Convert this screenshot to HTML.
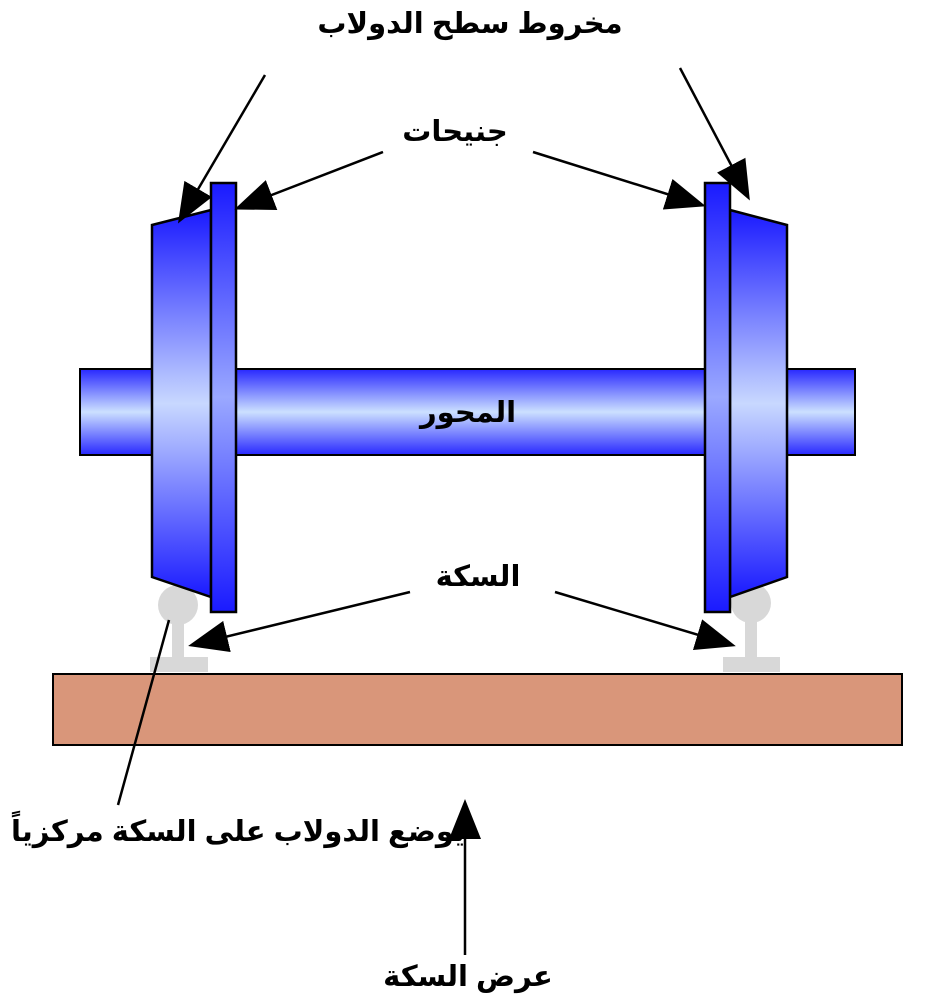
<!DOCTYPE html><html><head><meta charset="utf-8"><style>body{margin:0;background:#fff}svg{display:block}text{font-family:"Liberation Sans","DejaVu Sans",sans-serif;font-size:29px;font-weight:bold;fill:#000}</style></head><body>
<svg width="945" height="1002" viewBox="0 0 945 1002">
<defs>
<linearGradient id="g" x1="0" y1="0" x2="0" y2="1"><stop offset="0" stop-color="#1a1aff"/><stop offset="0.5" stop-color="#c8d8ff"/><stop offset="1" stop-color="#1a1aff"/></linearGradient>
<linearGradient id="f" x1="0" y1="0" x2="0" y2="1"><stop offset="0" stop-color="#1a1aff"/><stop offset="0.5" stop-color="#9aa8ff"/><stop offset="1" stop-color="#1a1aff"/></linearGradient>
<linearGradient id="a" x1="0" y1="0" x2="0" y2="1"><stop offset="0" stop-color="#2828ff"/><stop offset="0.5" stop-color="#cce0ff"/><stop offset="1" stop-color="#2828ff"/></linearGradient>
<marker id="M" viewBox="0 0 10 8" refX="9" refY="4" markerWidth="40" markerHeight="32" orient="auto" markerUnits="userSpaceOnUse"><path d="M0,0L10,4L0,8z"/></marker>
</defs>
<rect x="53" y="674" width="849" height="71" fill="#d9967a" stroke="#000" stroke-width="2"/>
<g fill="#d8d8d8"><circle cx="178" cy="605" r="20"/><rect x="172" y="618" width="12" height="42"/><rect x="150" y="657" width="58" height="15"/>
<circle cx="751" cy="603" r="20"/><rect x="745" y="616" width="12" height="44"/><rect x="723" y="657" width="57" height="15"/></g>
<rect x="80" y="369" width="775" height="86" fill="url(#a)" stroke="#000" stroke-width="2"/>
<polygon points="152,225 211,210 211,597 152,577" fill="url(#g)" stroke="#000" stroke-width="2.5"/>
<rect x="211" y="183" width="25" height="429" fill="url(#f)" stroke="#000" stroke-width="2.5"/>
<polygon points="730,210 787,225 787,577 730,597" fill="url(#g)" stroke="#000" stroke-width="2.5"/>
<rect x="705" y="183" width="25" height="429" fill="url(#f)" stroke="#000" stroke-width="2.5"/>
<g stroke="#000" stroke-width="2.5" marker-end="url(#M)">
<line x1="265" y1="75" x2="180" y2="220"/>
<line x1="383" y1="152" x2="238" y2="208"/>
<line x1="680" y1="68" x2="748" y2="197"/>
<line x1="533" y1="152" x2="702" y2="205"/>
<line x1="410" y1="592" x2="192" y2="645"/>
<line x1="555" y1="592" x2="732" y2="645"/>
<line x1="465" y1="955" x2="465" y2="803"/>
</g>
<line x1="118" y1="805" x2="169" y2="620" stroke="#000" stroke-width="2.5"/>
<g text-anchor="middle" direction="rtl">
<text x="470" y="33">مخروط سطح الدولاب</text>
<text x="455" y="141">جنيحات</text>
<text x="468" y="422">المحور</text>
<text x="478" y="586">السكة</text>
<text x="238" y="841">يوضع الدولاب على السكة مركزياً</text>
<text x="468" y="986">عرض السكة</text>
</g>
</svg></body></html>
